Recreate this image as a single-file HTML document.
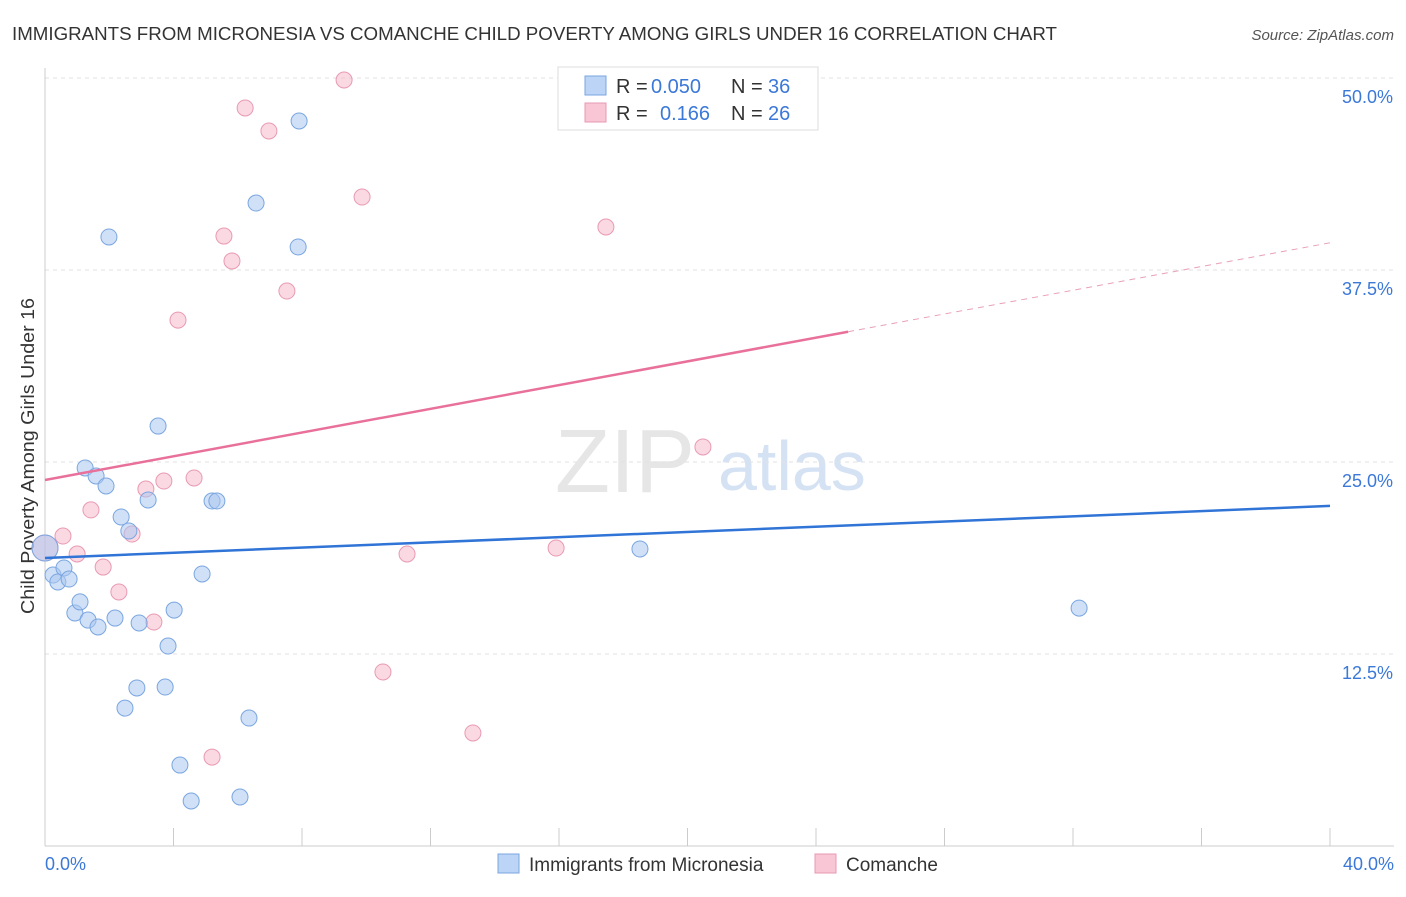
<!DOCTYPE html>
<html><head><meta charset="utf-8"><style>
body{margin:0;background:#fff;font-family:"Liberation Sans",sans-serif;}
svg text{font-family:"Liberation Sans",sans-serif;}
</style></head><body>
<svg id="chart" width="1406" height="892">
<text x="12" y="40" font-size="18" fill="#333" textLength="1045" lengthAdjust="spacingAndGlyphs">IMMIGRANTS FROM MICRONESIA VS COMANCHE CHILD POVERTY AMONG GIRLS UNDER 16 CORRELATION CHART</text>
<text x="1394" y="40" font-size="15" fill="#555" text-anchor="end" font-style="italic">Source: ZipAtlas.com</text>
<text x="34" y="456" font-size="18" fill="#333" text-anchor="middle" textLength="316" lengthAdjust="spacingAndGlyphs" transform="rotate(-90 34 456)">Child Poverty Among Girls Under 16</text>
<text x="555" y="492" font-size="90" fill="#e6e6e6" font-family="Liberation Serif">ZIP</text>
<text x="718" y="490" font-size="70" fill="#d5e2f4">atlas</text>
<g id="grid"></g><g id="marks"></g>
<g>
<rect x="558" y="67" width="260" height="63" fill="#fff" stroke="#ddd"/>
<rect x="585" y="76" width="21" height="19" fill="#bcd4f5" stroke="#7aa6e0"/>
<rect x="585" y="103" width="21" height="19" fill="#f8c6d5" stroke="#e99ab3"/>
<text x="616" y="93" font-size="20" fill="#333">R = </text><text x="651" y="93" font-size="20" fill="#3b78d8">0.050</text>
<text x="731" y="93" font-size="20" fill="#333">N = </text><text x="768" y="93" font-size="20" fill="#3b78d8">36</text>
<text x="616" y="120" font-size="20" fill="#333">R = </text><text x="660" y="120" font-size="20" fill="#3b78d8">0.166</text>
<text x="731" y="120" font-size="20" fill="#333">N = </text><text x="768" y="120" font-size="20" fill="#3b78d8">26</text>
</g>
<g>
<rect x="498" y="854" width="21" height="19" fill="#bcd4f5" stroke="#7aa6e0"/>
<text x="529" y="871" font-size="19" fill="#333">Immigrants from Micronesia</text>
<rect x="815" y="854" width="21" height="19" fill="#f8c6d5" stroke="#e99ab3"/>
<text x="846" y="871" font-size="19" fill="#333">Comanche</text>
</g>
</svg>
<script>
const xTicks=[0,4,8,12,16,20,24,28,32,36,40];
const yTicks=[12.5,25,37.5,50];
const yTickLabels=["12.5%","25.0%","37.5%","50.0%"];
const blueX=[0,0.25,0.40,0.59,0.75,0.93,1.09,1.34,1.65,1.25,1.59,1.90,1.99,2.37,2.18,2.61,2.93,3.52,3.21,3.83,2.86,3.74,2.49,4.02,4.20,4.55,4.89,5.20,5.35,6.07,6.35,6.57,7.91,7.88,18.52,32.19];
const blueY=[19.40,17.64,17.19,18.10,17.38,15.17,15.89,14.71,14.26,24.61,24.09,23.44,39.65,21.42,14.84,20.51,14.52,27.34,22.53,13.02,10.29,10.35,8.98,15.36,5.27,2.93,17.71,22.46,22.46,3.19,8.33,41.86,47.20,39.00,19.34,15.49];
const pinkX=[0,0.56,1.00,1.43,1.81,2.30,2.71,3.14,3.39,3.70,4.14,4.64,5.20,5.57,5.82,6.23,6.97,7.53,9.31,9.87,10.52,11.27,13.32,15.91,17.46,20.48];
const pinkY=[19.40,20.18,19.01,21.88,18.16,16.54,20.31,23.24,14.58,23.76,34.24,23.96,5.79,39.71,38.09,48.05,46.55,36.13,49.87,42.25,11.33,19.01,7.36,19.40,40.30,25.98];
const blueTrend=[18.75,0.0848]; // intercept, slope
const pinkTrend=[23.83,0.386];
const pinkSolidEnd=25;
const NS="http://www.w3.org/2000/svg";
const xs=v=>45+v/40*1285, ys=v=>846-v/12.5*192;
const grid=document.getElementById('grid'), marks=document.getElementById('marks');
function mk(tag,at,parent){const e=document.createElementNS(NS,tag);for(const k in at)e.setAttribute(k,at[k]);parent.appendChild(e);return e;}
yTicks.forEach((t,i)=>{
 const l=mk('line',{x1:45,x2:1394,y1:ys(t),y2:ys(t),stroke:'#e2e2e2','stroke-dasharray':'4,4'},grid);
 
 
 const tx=mk('text',{x:1393,y:ys(t)+25,'font-size':18,fill:'#3b78d8','text-anchor':'end'},grid);tx.textContent=yTickLabels[i];
 
 
});
mk('line',{x1:45,x2:1394,y1:846,y2:846,stroke:'#ccc'},grid);
mk('line',{x1:45,x2:45,y1:68,y2:846,stroke:'#ccc'},grid);
xTicks.forEach(t=>{const l=mk('line',{x1:xs(t),x2:xs(t),y1:828,y2:846,stroke:'#ccc'},grid);
 
 });
let t0=mk('text',{x:45,y:870,'font-size':18,fill:'#3b78d8'},grid);t0.textContent='0.0%';


let t1=mk('text',{x:1394,y:870,'font-size':18,fill:'#3b78d8','text-anchor':'end'},grid);t1.textContent='40.0%';


function pts(X,Y,fill,stroke,name){X.forEach((x,i)=>{const c=mk('circle',{cx:xs(x),cy:ys(Y[i]),r:(x===0?13:8),fill:fill,'fill-opacity':0.55,stroke:stroke,'stroke-width':1},marks);
 
 });}
pts(pinkX,pinkY,'#f6b9cc','#e99ab3','comanche-point');
pts(blueX,blueY,'#a9c7f0','#7aa6e0','micronesia-point');
const bl=mk('line',{x1:xs(0),y1:ys(blueTrend[0]),x2:xs(40),y2:ys(blueTrend[0]+40*blueTrend[1]),stroke:'#2f74d6','stroke-width':2.5},marks);


const pl=mk('line',{x1:xs(0),y1:ys(pinkTrend[0]),x2:xs(pinkSolidEnd),y2:ys(pinkTrend[0]+pinkSolidEnd*pinkTrend[1]),stroke:'#e8709a','stroke-width':2.5},marks);


const pd=mk('line',{x1:xs(pinkSolidEnd),y1:ys(pinkTrend[0]+pinkSolidEnd*pinkTrend[1]),x2:xs(40),y2:ys(pinkTrend[0]+40*pinkTrend[1]),stroke:'#e8a0b8','stroke-width':1,'stroke-dasharray':'6,5'},marks);


</script>
</body></html>
